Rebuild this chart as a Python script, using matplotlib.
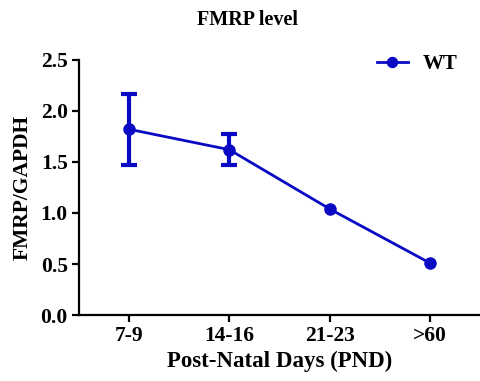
import matplotlib
matplotlib.use('Agg')
import matplotlib.pyplot as plt

# FMRP/GAPDH por idade
grupos = ['7-9', '14-16', '21-23', '>60']
media = [1.82, 1.62, 1.04, 0.51]
erro = [0.35, 0.15, 0, 0]

plt.rcParams['font.family'] = 'Liberation Serif'
plt.rcParams['font.weight'] = 'bold'

cor = '#0a0ac4'
fig = plt.figure(figsize=(4.81, 3.81), dpi=100)
ax = fig.add_axes([0.164, 0.173, 0.834, 0.67])

x = list(range(len(grupos)))
ax.plot(x, media, color=cor, marker='o', markersize=8, linewidth=2, label='WT')
# barras de erro somente onde existem
xe = [xi for xi, e in zip(x, erro) if e > 0]
me = [m for m, e in zip(media, erro) if e > 0]
ee = [e for e in erro if e > 0]
ax.errorbar(xe, me, yerr=ee, fmt='none', ecolor=cor, elinewidth=3,
            capsize=5.5, capthick=3)

ax.set_xlim(-0.5, 3.5)
ax.set_ylim(0, 2.5)
ax.set_xticks(x)
ax.set_xticklabels(grupos)
ax.set_yticks([0.0, 0.5, 1.0, 1.5, 2.0, 2.5])
ax.set_yticklabels(['0.0', '0.5', '1.0', '1.5', '2.0', '2.5'])

for s in ['top', 'right']:
    ax.spines[s].set_visible(False)
for s in ['left', 'bottom']:
    ax.spines[s].set_linewidth(1.6)
ax.tick_params(width=1.6, length=5, labelsize=15.5, pad=3)

ax.set_ylabel('FMRP/GAPDH', fontsize=15.5, fontweight='bold', labelpad=6)
ax.set_xlabel('Post-Natal Days (PND)', fontsize=16.5, fontweight='bold', labelpad=3)
fig.text(0.515, 0.935, 'FMRP level', fontsize=14.5, fontweight='bold', ha='center')

leg = ax.legend(loc='upper right', frameon=False, fontsize=15,
                handlelength=1.5, handletextpad=0.7, markerscale=0.9,
                bbox_to_anchor=(0.99, 1.095))

fig.savefig('out.png', dpi=100)
